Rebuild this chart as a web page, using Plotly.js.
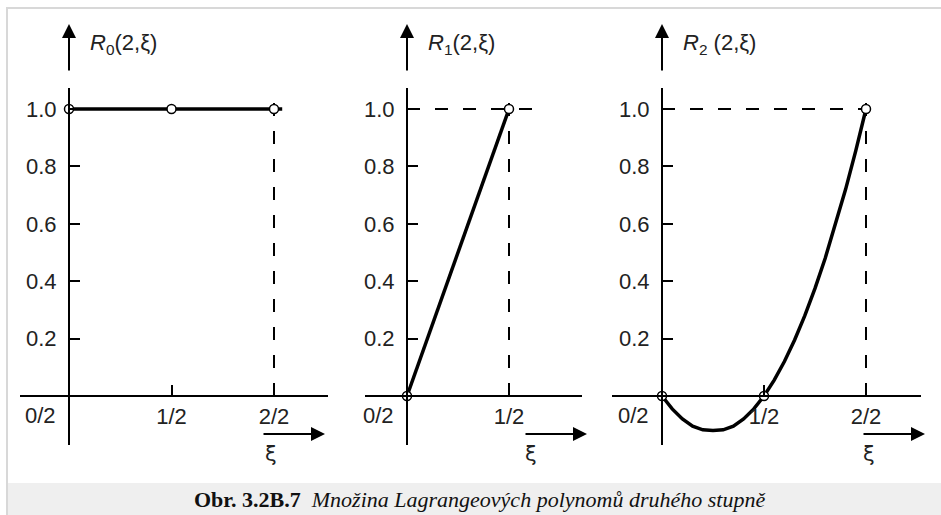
<!DOCTYPE html>
<html>
<head>
<meta charset="utf-8">
<script src="https://cdn.plot.ly/plotly-3.0.1.min.js"></script>
<style>html,body{margin:0;padding:0;background:#fff;}#chart{width:941px;height:515px;}</style>
</head>
<body>
<div id="chart"></div>
<script>
// ---- data ----
const xiR0 = [0, 0.5, 1, 1.04];
const R0 = [1, 1, 1, 1];
const nodesR0x = [0, 0.5, 1];
const nodesR0y = [1, 1, 1];

const xiR1 = [0, 0.5];
const R1 = [0, 1];
const nodesR1x = [0, 0.5];
const nodesR1y = [0, 1];

const xiR2 = [0, 0.05, 0.1, 0.15, 0.2, 0.25, 0.3, 0.35, 0.4, 0.45, 0.5, 0.55, 0.6, 0.65, 0.7, 0.75, 0.8, 0.85, 0.9, 0.95, 1];
const R2 = [0, -0.045, -0.08, -0.105, -0.118, -0.12, -0.118, -0.105, -0.08, -0.045, 0, 0.055, 0.12, 0.195, 0.28, 0.375, 0.48, 0.595, 0.72, 0.855, 1.0];
const nodesR2x = [0, 0.5, 1];
const nodesR2y = [0, 0, 1];

const yTickVals = [0.2, 0.4, 0.6, 0.8, 1.0];
const yTickText = ['0.2', '0.4', '0.6', '0.8', '1.0'];
const xTickVals1 = [0.5, 1]; const xTickText1 = ['1/2', '2/2'];
const xTickVals2 = [0.5];    const xTickText2 = ['1/2'];
const xTickVals3 = [0.5, 1]; const xTickText3 = ['1/2', '2/2'];
const zeroLabel = '0/2';
const titles = ['<i>R</i><sub>0</sub>(2,ξ)', '<i>R</i><sub>1</sub>(2,ξ)', '<i>R</i><sub>2</sub> (2,ξ)'];
const caption = '<b>Obr. 3.2B.7</b>  <i>Množina Lagrangeových polynomů druhého stupně</i>';
// dashed guide lines
const guide1V = {x: [1, 1], y: [0, 1.07]};
const guide2V = {x: [0.5, 0.5], y: [0, 1.07]};
const guide2H = {x: [0, 0.64], y: [1, 1]};
const guide3V = {x: [1, 1], y: [0, 1.07]};
const guide3H = {x: [0, 1.06], y: [1, 1]};

// ---- layout geometry ----
const W = 941, H = 515;
const px = v => v / W;
const py = v => 1 - v / H;
const yTopPx = 88, yBotPx = 445, yZeroPx = 396, yOnePx = 109;
const yUnit = yZeroPx - yOnePx;
const panels = [
  {axisPx: 69, unit: 205, left: 20, right: 328, tv: xTickVals1, tt: xTickText1, arrowTip: 325, xiPx: 271},
  {axisPx: 407, unit: 204, left: 365, right: 582, tv: xTickVals2, tt: xTickText2, arrowTip: 587, xiPx: 531},
  {axisPx: 662, unit: 204, left: 612, right: 921, tv: xTickVals3, tt: xTickText3, arrowTip: 925, xiPx: 869}
];
const tickFont = {family: 'Liberation Sans, Arial, sans-serif', size: 22, color: '#222'};

const layout = {
  width: W, height: H,
  margin: {l: 0, r: 0, t: 0, b: 0},
  paper_bgcolor: '#fff', plot_bgcolor: 'rgba(0,0,0,0)',
  showlegend: false,
  shapes: [
    {type: 'rect', xref: 'paper', yref: 'paper', x0: px(7), x1: px(950), y0: py(530), y1: py(8), line: {color: '#d8d8d8', width: 2}, fillcolor: '#fff', layer: 'below'},
    {type: 'rect', xref: 'paper', yref: 'paper', x0: px(8), x1: px(950), y0: py(530), y1: py(483), line: {width: 0}, fillcolor: '#efefef', layer: 'below'}
  ],
  annotations: [
    {xref: 'paper', yref: 'paper', x: px(479), y: py(499), text: caption, showarrow: false, xanchor: 'center', yanchor: 'middle',
     font: {family: 'Liberation Serif, Times New Roman, serif', size: 22, color: '#111'}}
  ]
};

panels.forEach((p, i) => {
  const s = i === 0 ? '' : String(i + 1);
  layout['xaxis' + s] = {
    domain: [px(p.left), px(p.right)],
    range: [-(p.axisPx - p.left) / p.unit, (p.right - p.axisPx) / p.unit],
    anchor: 'free', position: py(yZeroPx),
    showline: true, linewidth: 2, linecolor: '#000',
    ticks: 'inside', ticklen: 10, tickwidth: 2, tickcolor: '#000',
    tickmode: 'array', tickvals: p.tv, ticktext: p.tt,
    ticklabelstandoff: 1,
    showgrid: false, zeroline: false, tickfont: tickFont, fixedrange: true
  };
  layout['yaxis' + s] = {
    domain: [py(yBotPx), py(yTopPx)],
    range: [-(yBotPx - yZeroPx) / yUnit, 1 + (yOnePx - yTopPx) / yUnit],
    anchor: 'free', position: px(p.axisPx), side: 'left',
    showline: true, linewidth: 2, linecolor: '#000',
    ticks: 'inside', ticklen: 10, tickwidth: 2, tickcolor: '#000',
    tickmode: 'array', tickvals: yTickVals, ticktext: yTickText,
    ticklabelstandoff: 7,
    showgrid: false, zeroline: false, tickfont: tickFont, fixedrange: true
  };
  // "0/2" label
  layout.annotations.push({xref: 'x' + s, yref: 'paper', x: 0, y: py(415), xshift: -29, text: zeroLabel,
    showarrow: false, xanchor: 'center', yanchor: 'middle', font: tickFont});
  // vertical axis arrow
  layout.annotations.push({xref: 'x' + s, yref: 'paper', x: 0, y: py(24), ax: 0, ay: 48, axref: 'pixel', ayref: 'pixel',
    text: '', showarrow: true, arrowhead: 2, arrowsize: 1.4, arrowwidth: 2, arrowcolor: '#000'});
  // function label
  layout.annotations.push({xref: 'paper', yref: 'paper', x: px(p.axisPx + 19), y: py(44), text: titles[i],
    showarrow: false, xanchor: 'left', yanchor: 'middle', font: tickFont});
  // xi arrow
  layout.annotations.push({xref: 'paper', yref: 'paper', x: px(p.arrowTip), y: py(434), ax: -63, ay: 0, axref: 'pixel', ayref: 'pixel',
    text: '', showarrow: true, arrowhead: 2, arrowsize: 1.4, arrowwidth: 2, arrowcolor: '#000'});
  layout.annotations.push({xref: 'paper', yref: 'paper', x: px(p.xiPx), y: py(454), text: 'ξ',
    showarrow: false, xanchor: 'center', yanchor: 'middle', font: {family: 'DejaVu Sans, sans-serif', size: 21, color: '#222'}});
});

const dashLine = {color: '#000', width: 2, dash: '13px,15px'};
const solid = {color: '#000', width: 3.5};
const marker = {symbol: 'circle', size: 9, color: '#fff', line: {color: '#000', width: 1.5}};

const traces = [
  {x: guide1V.x, y: guide1V.y, mode: 'lines', line: dashLine, xaxis: 'x', yaxis: 'y', cliponaxis: false},
  {x: xiR0, y: R0, mode: 'lines', line: solid, xaxis: 'x', yaxis: 'y', cliponaxis: false},
  {x: nodesR0x, y: nodesR0y, mode: 'markers', marker: marker, xaxis: 'x', yaxis: 'y', cliponaxis: false},

  {x: guide2V.x, y: guide2V.y, mode: 'lines', line: dashLine, xaxis: 'x2', yaxis: 'y2', cliponaxis: false},
  {x: guide2H.x, y: guide2H.y, mode: 'lines', line: dashLine, xaxis: 'x2', yaxis: 'y2', cliponaxis: false},
  {x: xiR1, y: R1, mode: 'lines', line: solid, xaxis: 'x2', yaxis: 'y2', cliponaxis: false},
  {x: nodesR1x, y: nodesR1y, mode: 'markers', marker: marker, xaxis: 'x2', yaxis: 'y2', cliponaxis: false},

  {x: guide3V.x, y: guide3V.y, mode: 'lines', line: dashLine, xaxis: 'x3', yaxis: 'y3', cliponaxis: false},
  {x: guide3H.x, y: guide3H.y, mode: 'lines', line: dashLine, xaxis: 'x3', yaxis: 'y3', cliponaxis: false},
  {x: xiR2, y: R2, mode: 'lines', line: solid, xaxis: 'x3', yaxis: 'y3', cliponaxis: false},
  {x: nodesR2x, y: nodesR2y, mode: 'markers', marker: marker, xaxis: 'x3', yaxis: 'y3', cliponaxis: false}
];
traces.forEach(t => { t.hoverinfo = 'skip'; t.type = 'scatter'; });

Plotly.newPlot('chart', traces, layout, {staticPlot: true, displayModeBar: false});
</script>
</body>
</html>
